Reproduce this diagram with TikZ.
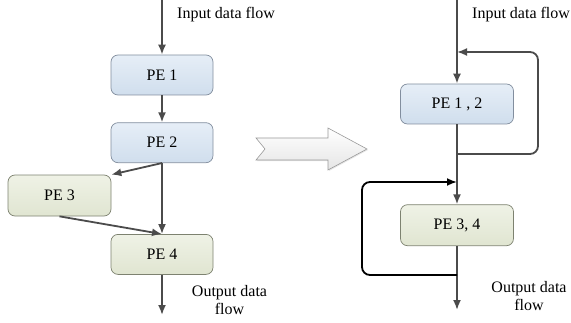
\documentclass[tikz,border=0pt]{standalone}
\usepackage{fontspec}
\setmainfont{Liberation Serif}
\usepackage{tikz}
\usetikzlibrary{arrows.meta,positioning,calc,shadows}
\definecolor{flowgray}{RGB}{75,75,75}
\definecolor{peblue}{RGB}{208,222,237}
\definecolor{pebluetop}{RGB}{230,238,247}
\definecolor{peblueline}{RGB}{130,142,158}
\definecolor{pegreen}{RGB}{224,229,209}
\definecolor{pegreentop}{RGB}{239,242,230}
\definecolor{pegreenline}{RGB}{125,130,112}

\begin{document}
\begin{tikzpicture}[x=1pt,y=1pt,>={Latex[length=10pt,width=8pt]},
  every node/.style={font=\fontsize{16}{17.5}\selectfont},
  pebox/.style={draw,rounded corners=7pt,minimum height=40pt,inner sep=0pt,line width=0.7pt},
  blue box/.style={pebox,draw=peblueline,top color=pebluetop,bottom color=peblue},
  green box/.style={pebox,draw=pegreenline,top color=pegreentop,bottom color=pegreen},
  flowtext/.style={inner sep=0pt,align=center},
  flow/.style={->,draw=flowgray,line width=1.8pt}]
\useasboundingbox (0,0) rectangle (571,322);
% left: one PE per stage
\node[blue box,minimum width=102pt] (pe1) at (162,247) {PE 1};
\node[blue box,minimum width=102pt,below=27pt of pe1] (pe2) {PE 2};
\node[green box,minimum width=102pt,below=71pt of pe2] (pe4) {PE 4};
\node[green box,minimum width=103pt,minimum height=41pt] (pe3) at (59.5,126.5) {PE 3};
\coordinate (in1) at (162,322);
\coordinate (out1) at (162,7);
\node[flowtext,anchor=west] (inlbl1) at (177,307) {Input data flow};
\node[flowtext] (outlbl1) at (229.5,22) {Output data\\flow};
\draw[flow] (in1) -- (pe1);
\draw[flow] (pe1) -- (pe2);
\draw[flow] (pe2.south) -- (pe3.north east);
\draw[flow] (pe2.south) -- (pe4.north);
\draw[flow] (pe3.south) -- (pe4.north);
\draw[flow] (pe4) -- (out1);
% big hollow arrow
\draw[draw=black!40,top color=white,bottom color=black!10,line width=0.6pt,
  drop shadow={opacity=0.2,shadow xshift=1pt,shadow yshift=-1pt}]
  (256,184) -- (265,173) -- (256,162) -- (328,162) -- (328,152) -- (367,173)
  -- (328,194) -- (328,184) -- cycle;
% right: merged PEs with feedback
\node[blue box,minimum width=113pt] (pe12) at (457,218) {PE 1 , 2};
\node[green box,minimum width=113pt,minimum height=41pt,below=80pt of pe12] (pe34) {PE 3, 4};
\coordinate (in2) at (457,322);
\coordinate (back1) at (457,270);
\coordinate (split1) at (457,168);
\coordinate (back2) at (457,140);
\coordinate (split2) at (457,47);
\coordinate (out2) at (457,12);
\node[flowtext,anchor=west] (inlbl2) at (472,307) {Input data flow};
\node[flowtext] (outlbl2) at (529,26) {Output data\\flow};
\draw[flow] (in2) -- (pe12);
\draw[flow] (pe12) -- (pe34);
\draw[flow] (pe34) -- (out2);
\draw[flow,rounded corners=8pt] (split1) -| (538,270) -- (back1);
\draw[flow,draw=black,rounded corners=8pt] (split2) -| (362,140) -- (back2);
\end{tikzpicture}
\end{document}
